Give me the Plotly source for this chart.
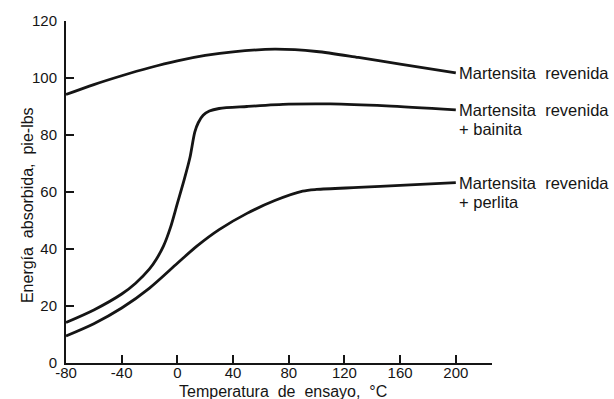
import plotly.graph_objects as go

# --- data ---
temp_top = [-80, -60, -40, -20, 0, 20, 40, 70, 100, 130, 160, 200]
energy_top = [94.2, 97.7, 100.8, 103.6, 106.0, 107.9, 109.2, 110.1, 109.3, 107.2, 104.9, 101.8]

temp_bain = [-80, -60, -40, -30, -20, -15, -10, -5, 0, 5, 9, 12.5, 15, 18.5, 23, 30, 50, 80, 110, 150, 200]
energy_bain = [14.2, 18.6, 24.2, 28.0, 33.0, 36.5, 41.0, 47.5, 56.0, 64.5, 72.0, 81.0, 84.3, 86.9, 88.4, 89.3, 90.0, 90.8, 90.9, 90.2, 88.8]

temp_perl = [-80, -60, -40, -20, 0, 14, 30, 50, 70, 90, 100, 130, 160, 200]
energy_perl = [9.5, 13.8, 19.3, 26.3, 35.0, 41.0, 46.8, 52.5, 57.0, 60.3, 60.9, 61.6, 62.3, 63.3]

x_ticks = [-80, -40, 0, 40, 80, 120, 160, 200]
x_tick_text = ["-80", "-40", "0", "40", "80", "120", "160", "200"]
y_ticks = [0, 20, 40, 60, 80, 100, 120]

label_first = ["Martensita\u00a0\u00a0revenida"] * 3
label_second = ["", "+ bainita", "+ perlita"]

FONT = "Liberation Sans, Arial, sans-serif"
INK = "#151515"

fig = go.Figure()
series = [(temp_top, energy_top), (temp_bain, energy_bain), (temp_perl, energy_perl)]
for t, e in series:
    fig.add_trace(go.Scatter(x=t, y=e, mode="lines",
                             line=dict(color=INK, width=2.8, shape="spline", smoothing=0.8),
                             showlegend=False, hoverinfo="skip"))

annotations = []
for (t, e), l1, l2 in zip(series, label_first, label_second):
    annotations.append(dict(x=t[-1], y=e[-1], xref="x", yref="y", text=l1,
                            showarrow=False, xanchor="left", yanchor="middle",
                            xshift=1, font=dict(family=FONT, size=16.5, color=INK)))
    if l2:
        annotations.append(dict(x=t[-1], y=e[-1], xref="x", yref="y", text=l2,
                                showarrow=False, xanchor="left", yanchor="middle",
                                xshift=1, yshift=-19, font=dict(family=FONT, size=16.5, color=INK)))

annotations.append(dict(x=0.509, y=-0.082, xref="paper", yref="paper",
                        text="Temperatura\u00a0 de\u00a0 ensayo,\u00a0 °C", showarrow=False,
                        xanchor="center", yanchor="middle",
                        font=dict(family=FONT, size=16, color=INK)))
annotations.append(dict(x=-0.089, y=0.462, xref="paper", yref="paper",
                        text="Energía\u00a0 absorbida,\u00a0 pie-lbs", showarrow=False,
                        textangle=-90, xanchor="center", yanchor="middle",
                        font=dict(family=FONT, size=16, color=INK)))

fig.update_layout(
    width=614, height=399,
    margin=dict(l=66, r=122, t=21, b=36),
    paper_bgcolor="white", plot_bgcolor="white",
    annotations=annotations,
    font=dict(family=FONT, size=15, color=INK),
)
fig.update_xaxes(range=[-80, 226], tickvals=x_ticks, ticktext=x_tick_text,
                 showline=True, linecolor=INK, linewidth=2,
                 ticks="inside", ticklen=8, tickwidth=2, tickcolor=INK,
                 showgrid=False, zeroline=False, ticklabelstandoff=-5,
                 tickfont=dict(family=FONT, size=15, color=INK))
fig.update_yaxes(range=[0, 120], tickvals=y_ticks,
                 showline=True, linecolor=INK, linewidth=2,
                 ticks="inside", ticklen=8, tickwidth=2, tickcolor=INK,
                 showgrid=False, zeroline=False, ticklabelstandoff=4,
                 tickfont=dict(family=FONT, size=15, color=INK))

fig.write_html("out.html")
